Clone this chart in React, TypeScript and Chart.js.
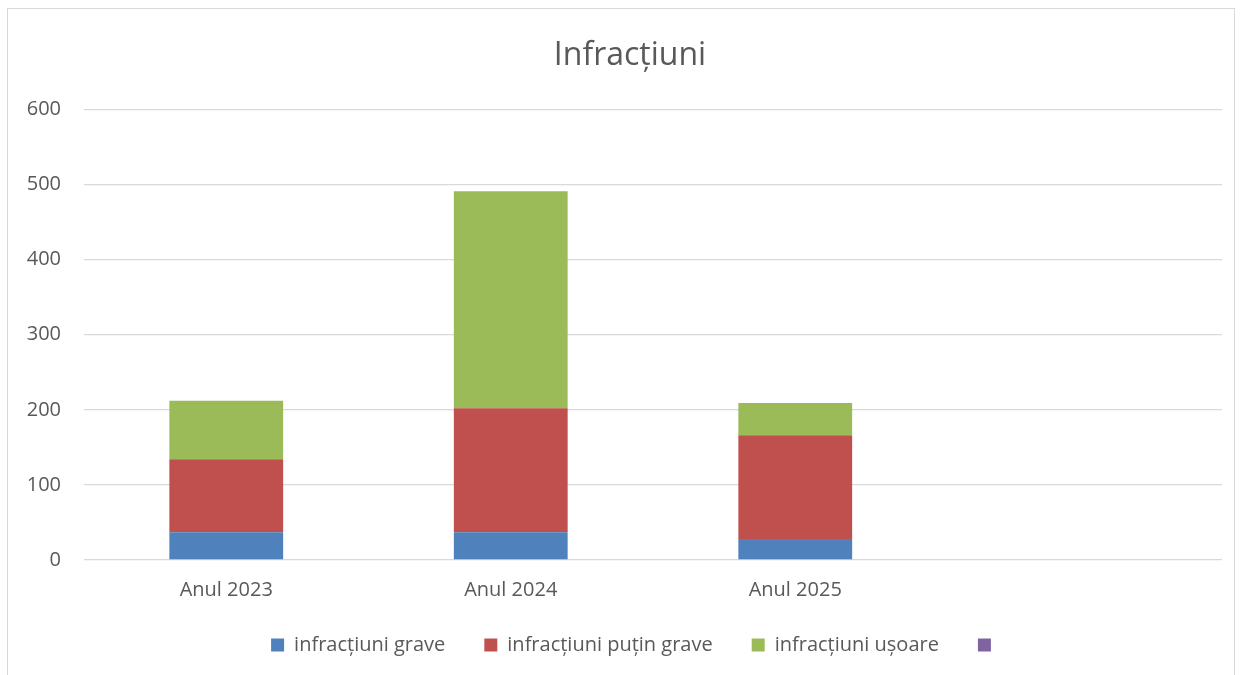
import React, { useEffect, useRef } from "react";
import { Chart, registerables } from "chart.js";

Chart.register(...registerables);

const categories = ["Anul 2023", "Anul 2024", "Anul 2025", ""];
const graveValues = [37, 37, 28, null];
const putinGraveValues = [97, 165, 138, null];
const usoareValues = [78, 289, 43, null];
const emptySeries: (number | null)[] = [null, null, null, null];
const yTicks = [0, 100, 200, 300, 400, 500, 600];

const FONT = "'Open Sans', sans-serif";
const TEXT = "#595959";

// Moves the title and legend blocks to where the reference has them.
const shiftBlocks = {
  id: "shiftBlocks",
  afterLayout(chart: any) {
    const t = chart.titleBlock;
    if (t) { t.left += 15; t.right += 15; }
    const l = chart.legend;
    if (l) {
      l.left += 21;
      l.right += 21;
      l.top -= 12;
      l.bottom = l.top + 100;
    }
  },
};

export default function App() {
  const ref = useRef<HTMLCanvasElement>(null);
  useEffect(() => {
    if (!ref.current) return;
    const chart = new Chart(ref.current, {
      type: "bar",
      data: {
        labels: categories,
        datasets: [
          { label: "infracțiuni grave", data: graveValues, backgroundColor: "#4F81BD" },
          { label: "infracțiuni puțin grave", data: putinGraveValues, backgroundColor: "#C0504D" },
          { label: "infracțiuni ușoare", data: usoareValues, backgroundColor: "#9BBB59" },
          { label: "", data: emptySeries, backgroundColor: "#8064A2" },
        ],
      },
      plugins: [shiftBlocks],
      options: {
        animation: false,
        responsive: false,
        maintainAspectRatio: false,
        layout: { padding: { left: 0, right: 12, top: 0, bottom: 7 } },
        datasets: { bar: { categoryPercentage: 1, barPercentage: 0.4 } },
        plugins: {
          title: {
            display: true,
            text: "Infracțiuni",
            color: TEXT,
            font: { family: FONT, size: 32, weight: "normal" },
            padding: { top: 28, bottom: 34 },
          },
          legend: {
            position: "bottom",
            maxHeight: 60,
            labels: {
              color: TEXT,
              font: { family: FONT, size: 20 },
              boxWidth: 13,
              boxHeight: 13,
              padding: 39,
            },
          },
          tooltip: { enabled: false },
        },
        scales: {
          x: {
            stacked: true,
            grid: { display: false },
            border: { display: false },
            ticks: { color: TEXT, font: { family: FONT, size: 20 }, padding: 10 },
            afterFit: (s: any) => { s.height = 48; },
          },
          y: {
            stacked: true,
            min: 0,
            max: 600,
            afterBuildTicks: (s: any) => { s.ticks = yTicks.map((v) => ({ value: v })); },
            grid: { color: "#d9d9d9", lineWidth: 1.3, drawTicks: false },
            border: { display: false },
            ticks: { color: TEXT, font: { family: FONT, size: 20 }, padding: 23 },
            afterFit: (s: any) => { s.width = 76; },
          },
        },
      },
    });
    return () => chart.destroy();
  }, []);
  return (
    <div
      style={{
        position: "fixed",
        left: 7,
        top: 8,
        width: 1226,
        height: 680,
        border: "1px solid #d9d9d9",
        background: "#fff",
      }}
    >
      <canvas ref={ref} width={1226} height={666} style={{ display: "block" }} />
    </div>
  );
}
